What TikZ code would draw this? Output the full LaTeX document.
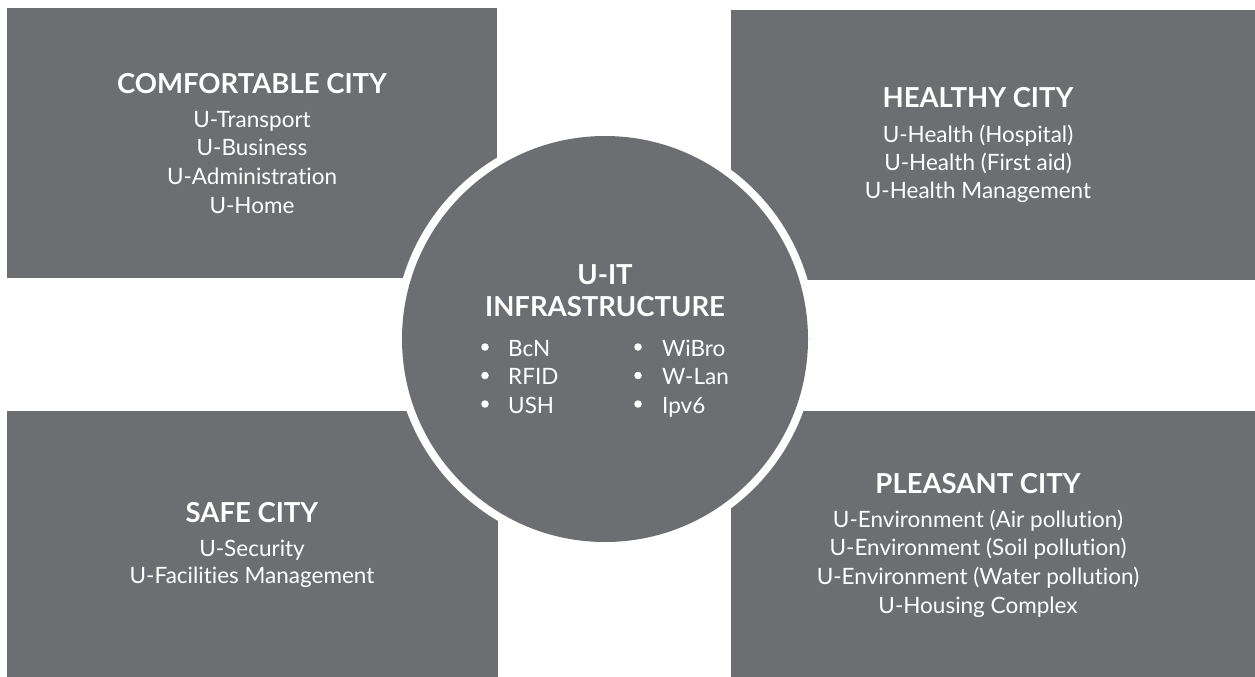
\documentclass[tikz,border=0pt]{standalone}
\usepackage{fontspec}
\setmainfont{Lato}[Ligatures=NoCommon]
\definecolor{cellgray}{RGB}{109,110,114}

\begin{document}
\begin{tikzpicture}[x=1pt, y=-1pt,
    cell/.style={rectangle, fill=cellgray, inner sep=0pt, anchor=north west},
    head/.style={text=white, anchor=base, inner sep=0pt, font=\fontsize{27.5}{32}\selectfont\bfseries},
    itemtext/.style={text=white, anchor=base, inner sep=0pt, font=\fontsize{22.5}{29}\selectfont},
    listtext/.style={text=white, anchor=base west, inner sep=0pt, font=\fontsize{22.5}{29}\selectfont},
    dot/.style={circle, fill=white, inner sep=0pt, minimum size=7.5pt}]
  % Variables
  \def \cx {605}
  \def \cy {339}

  \useasboundingbox (0,0) rectangle (1255,677);

  % Rectangles
  \node[cell, minimum width=490pt, minimum height=270pt] (comfort)  at (7,8)    {};
  \node[cell, minimum width=524pt, minimum height=270pt] (healthy)  at (731,10) {};
  \node[cell, minimum width=491pt, minimum height=266pt] (safe)     at (7,411)  {};
  \node[cell, minimum width=524pt, minimum height=266pt] (pleasant) at (731,411) {};

  % Hub
  \node[circle, fill=white, minimum size=422pt, inner sep=0pt] (ring) at (\cx,\cy) {};
  \node[circle, fill=cellgray, minimum size=406pt, inner sep=0pt] (hub) at (ring) {};

  % Comfortable city
  \node[head] (comfort-t) at (252,93) {COMFORTABLE CITY};
  \foreach \txt [count=\i from 0] in {U-Transport, U-Business, U-Administration, U-Home}
    \node[itemtext] (comfort-\i) at (252,{127+28.7*\i}) {\txt};

  % Healthy city
  \node[head] (healthy-t) at (978,107) {HEALTHY CITY};
  \foreach \txt [count=\i from 0] in {U-Health (Hospital), U-Health (First aid), U-Health Management}
    \node[itemtext] (healthy-\i) at (978,{142+28.3*\i}) {\txt};

  % Safe city
  \node[head] (safe-t) at (252,522) {SAFE CITY};
  \foreach \txt [count=\i from 0] in {U-Security, U-Facilities Management}
    \node[itemtext] (safe-\i) at (252,{556+27.5*\i}) {\txt};

  % Pleasant city
  \node[head] (pleasant-t) at (978,493) {PLEASANT CITY};
  \foreach \txt [count=\i from 0] in {U-Environment (Air pollution), U-Environment (Soil pollution), U-Environment (Water pollution), U-Housing Complex}
    \node[itemtext] (pleasant-\i) at (978,{527+28.7*\i}) {\txt};

  % U-IT infrastructure
  \node[head] (hub-t1) at (\cx,284) {U-IT};
  \node[head] (hub-t2) at (\cx,316) {INFRASTRUCTURE};
  \foreach \txt [count=\i from 0] in {BcN, RFID, USH} {
    \node[dot] (dotl-\i) at (485,{347+28.5*\i}) {};
    \node[listtext] (listl-\i) at (508,{356+28.5*\i}) {\txt};
  }
  \foreach \txt [count=\i from 0] in {WiBro, W-Lan, Ipv6} {
    \node[dot] (dotr-\i) at (638,{347+28.5*\i}) {};
    \node[listtext] (listr-\i) at (662,{356+28.5*\i}) {\txt};
  }
\end{tikzpicture}
\end{document}
